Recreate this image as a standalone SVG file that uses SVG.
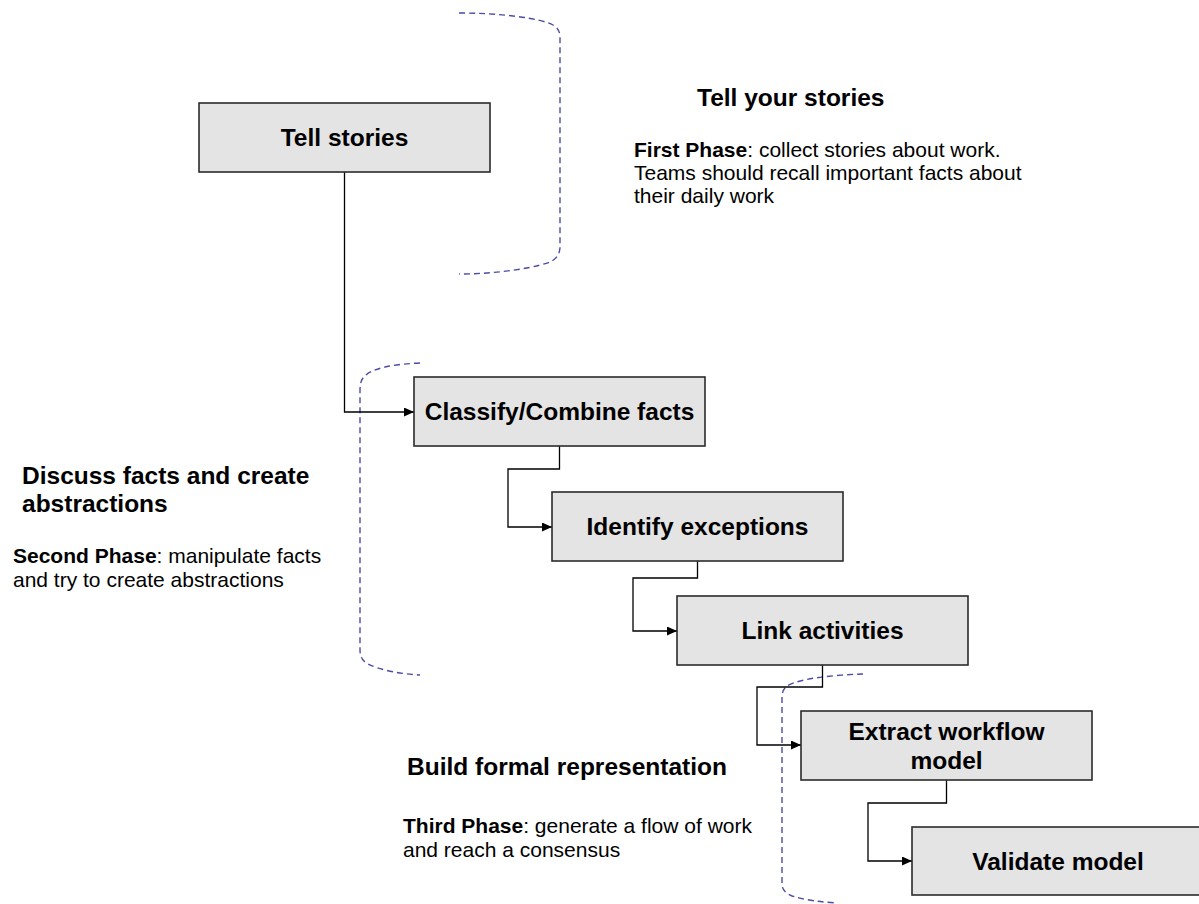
<svg xmlns="http://www.w3.org/2000/svg" width="1199" height="904" viewBox="0 0 1199 904">
  <style>
    .box { fill: #e4e4e4; stroke: #2b2b2b; stroke-width: 1.6; }
    .label { font-family: "Liberation Sans", Arial, sans-serif; font-size: 24.5px; font-weight: bold; fill: #000; text-anchor: middle; }
    .head { font-family: "Liberation Sans", Arial, sans-serif; font-size: 24.5px; font-weight: bold; fill: #000; }
    .desc { font-family: "Liberation Sans", Arial, sans-serif; font-size: 21px; fill: #000; }
    .desc .b { font-weight: bold; }
    .link { fill: none; stroke: #000; stroke-width: 1.3; marker-end: url(#arrow); }
    .phase { fill: none; stroke: #4b4ba8; stroke-width: 1.4; stroke-dasharray: 6 4; }
  </style>
  <defs>
    <marker id="arrow" markerUnits="userSpaceOnUse" markerWidth="11" markerHeight="10" refX="10" refY="4.5" orient="auto">
      <path d="M0,0 L10,4.5 L0,9 z" fill="#000"/>
    </marker>
  </defs>
  <rect width="1199" height="904" fill="#fff"/>

  <!-- phase brackets -->
  <g id="phase-brackets">
    <path class="phase" d="M459,13 C500,13 540,18 553,25 Q560,29 560,37 L560,247 Q560,256 552,261 C540,267 500,274 459,274"/>
    <path class="phase" d="M420,363 C395,364 370,368 363,378 Q360,382 360,390 L360,650 Q360,660 368,664 C380,670 400,674 420,675"/>
    <path class="phase" d="M863,674 C835,675 800,678 787,686 Q782,690 782,697 L782,884 Q782,892 792,896 C805,900 820,902 837,903"/>
  </g>

  <!-- phase descriptions -->
  <g id="phase1-text">
    <text class="head" x="697" y="106">Tell your stories</text>
    <text class="desc" x="634" y="157"><tspan class="b">First Phase</tspan>: collect stories about work.</text>
    <text class="desc" x="634" y="180">Teams should recall important facts about</text>
    <text class="desc" x="634" y="203">their daily work</text>
  </g>
  <g id="phase2-text">
    <text class="head" x="22" y="484">Discuss facts and create</text>
    <text class="head" x="22" y="512">abstractions</text>
    <text class="desc" x="13" y="563"><tspan class="b">Second Phase</tspan>: manipulate facts</text>
    <text class="desc" x="13" y="587">and try to create abstractions</text>
  </g>
  <g id="phase3-text">
    <text class="head" x="407" y="775">Build formal representation</text>
    <text class="desc" x="403" y="833"><tspan class="b">Third Phase</tspan>: generate a flow of work</text>
    <text class="desc" x="403" y="857">and reach a consensus</text>
  </g>

  <!-- connectors -->
  <g id="connectors">
    <path class="link" d="M344.5,172 V412 H414"/>
    <path class="link" d="M559.5,446 V469 H508 V527 H552"/>
    <path class="link" d="M697.5,561 V578 H633 V631 H677"/>
    <path class="link" d="M822.5,665 V687 H757 V745 H801"/>
    <path class="link" d="M946.5,780 V803 H868 V861 H912"/>
  </g>

  <!-- process steps -->
  <g id="tell-stories">
    <rect class="box" x="199" y="103" width="291" height="69"/>
    <text class="label" x="344.5" y="146">Tell stories</text>
  </g>
  <g id="classify-combine">
    <rect class="box" x="414" y="377" width="291" height="69"/>
    <text class="label" x="559.5" y="420">Classify/Combine facts</text>
  </g>
  <g id="identify-exceptions">
    <rect class="box" x="552" y="492" width="291" height="69"/>
    <text class="label" x="697.5" y="535">Identify exceptions</text>
  </g>
  <g id="link-activities">
    <rect class="box" x="677" y="596" width="291" height="69"/>
    <text class="label" x="822.5" y="639">Link activities</text>
  </g>
  <g id="extract-model">
    <rect class="box" x="801" y="711" width="291" height="69"/>
    <text class="label" x="946.5" y="740">Extract workflow</text>
    <text class="label" x="946.5" y="769">model</text>
  </g>
  <g id="validate-model">
    <rect class="box" x="912" y="827" width="291" height="68"/>
    <text class="label" x="1058" y="870">Validate model</text>
  </g>
</svg>
